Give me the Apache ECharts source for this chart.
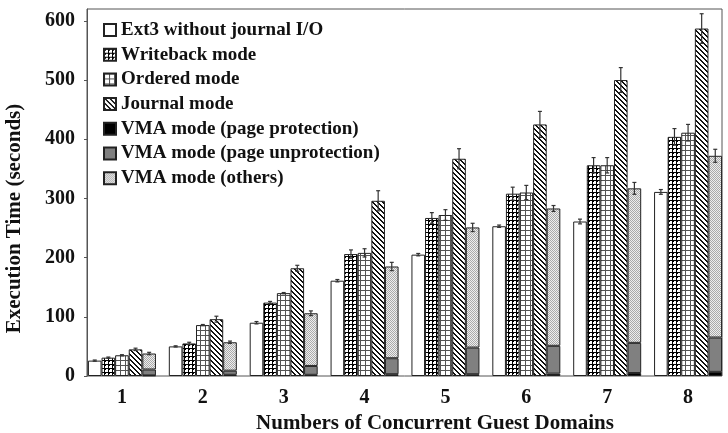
<!DOCTYPE html>
<html>
<head>
<meta charset="utf-8">
<script src="https://cdn.jsdelivr.net/npm/echarts@6/dist/echarts.min.js"></script>
<style>
  html, body { margin: 0; padding: 0; background: #fff; }
  #chart { width: 728px; height: 433px; }
</style>
</head>
<body>
<div id="chart"></div>
<script>
// values (seconds)
const categories = ['1', '2', '3', '4', '5', '6', '7', '8'];
const ext3 = [26, 50, 90, 161, 205, 253, 261, 311];
const writeback = [31, 55, 124, 206, 267, 308, 356, 404];
const ordered = [35, 86, 140, 208, 272, 310, 356, 411];
const journal = [45, 96, 182, 296, 367, 425, 500, 587];
const vmaProt = [1, 2, 2, 3, 3, 4, 5, 7];
const vmaUnprot = [10, 7, 15, 27, 45, 47, 51, 58];
const vmaOthers = [27, 48, 89, 155, 203, 232, 261, 307];
// error bar half-lengths
const errExt3 = [1, 1, 2, 2, 2, 2, 4, 4];
const errWriteback = [1, 2, 2, 7, 9, 11, 13, 14];
const errOrdered = [1, 1, 1, 7, 9, 12, 13, 14];
const errJournal = [2, 5, 5, 17, 17, 22, 21, 25];
const errVma = [2, 2, 4, 7, 7, 5, 10, 11];
const yMin = 0, yMax = 620, yStep = 100;

const FONT = 'Liberation Serif';
const BAR_W = 13.6;

// little tiled fills like the b/w print
function pattern(size, fn) {
  const c = document.createElement('canvas');
  c.width = size; c.height = size;
  const ctx = c.getContext('2d');
  for (let y = 0; y < size; y++) {
    for (let x = 0; x < size; x++) {
      ctx.fillStyle = fn(x, y);
      ctx.fillRect(x, y, 1, 1);
    }
  }
  return { image: c, repeat: 'repeat' };
}
const pWriteback = pattern(4, (x, y) => (x === 0 || y === 0 || (x === 1 && y === 1)) ? '#000' : '#fff');
const pOrdered = pattern(5, (x, y) => (x === 0 || y === 0) ? '#555' : '#fff');
const pJournal = pattern(5, (x, y) => (((x - y) % 5 + 5) % 5) < 2 ? '#111' : '#fff');
const pOthers = pattern(2, (x, y) => (x + y) % 2 === 0 ? '#aaa' : '#eee');

function barSeries(name, data, color, stack) {
  const s = {
    name: name,
    type: 'bar',
    data: data,
    barWidth: BAR_W,
    barGap: '0%',
    xAxisIndex: 0,
    yAxisIndex: 0,
    itemStyle: { color: color, borderColor: '#222', borderWidth: 1 },
    emphasis: { disabled: true }
  };
  if (stack) s.stack = stack;
  return s;
}

const vmaTotal = vmaProt.map((v, i) => v + vmaUnprot[i] + vmaOthers[i]);
const errData = [];
[[ext3, errExt3], [writeback, errWriteback], [ordered, errOrdered], [journal, errJournal], [vmaTotal, errVma]]
  .forEach((pair, k) => pair[0].forEach((v, i) => errData.push([i, v, pair[1][i], k])));

const chart = echarts.init(document.getElementById('chart'));
chart.setOption({
  animation: false,
  textStyle: { fontFamily: FONT },
  grid: [
    { left: 81.5, width: 647, top: 9, height: 367, outerBoundsMode: 'none' },
    { left: 87, right: 6, top: 9, height: 367, outerBoundsMode: 'none', show: true, borderColor: '#555', borderWidth: 1 }
  ],
  legend: {
    orient: 'vertical',
    left: 98,
    top: 15.5,
    icon: 'rect',
    itemWidth: 12,
    itemHeight: 12,
    itemGap: 5.7,
    textStyle: { fontFamily: FONT, fontWeight: 'bold', fontSize: 19, color: '#111', lineHeight: 19 },
    data: ['Ext3 without journal I/O', 'Writeback mode', 'Ordered mode', 'Journal mode',
      'VMA mode (page protection)', 'VMA mode (page unprotection)', 'VMA mode (others)']
  },
  xAxis: [
    {
      type: 'category', gridIndex: 0, data: categories,
      axisLine: { show: false }, axisTick: { show: false },
      axisLabel: { fontFamily: FONT, fontWeight: 'bold', fontSize: 20, color: '#111', margin: 12 },
      name: 'Numbers of Concurrent Guest Domains',
      nameLocation: 'middle',
      nameGap: 36,
      nameTextStyle: { fontFamily: FONT, fontWeight: 'bold', fontSize: 21, color: '#111', padding: [0, 0, 0, 60] }
    },
    { type: 'category', gridIndex: 1, data: categories, show: false }
  ],
  yAxis: [
    { type: 'value', gridIndex: 0, min: yMin, max: yMax, interval: yStep, show: false },
    {
      type: 'value', gridIndex: 1, min: yMin, max: yMax, interval: yStep,
      splitLine: { show: false },
      axisLine: { show: true, lineStyle: { color: '#555' } },
      axisTick: { show: true, length: 3, lineStyle: { color: '#555' } },
      axisLabel: { fontFamily: FONT, fontWeight: 'bold', fontSize: 20, color: '#111', margin: 12, showMaxLabel: false },
      name: 'Execution Time (seconds)',
      nameLocation: 'middle',
      nameGap: 62,
      nameTextStyle: { fontFamily: FONT, fontWeight: 'bold', fontSize: 21, color: '#111', padding: [0, 52, 0, 0] }
    }
  ],
  series: [
    barSeries('Ext3 without journal I/O', ext3, '#fff'),
    barSeries('Writeback mode', writeback, pWriteback),
    barSeries('Ordered mode', ordered, pOrdered),
    barSeries('Journal mode', journal, pJournal),
    barSeries('VMA mode (page protection)', vmaProt, '#000', 'vma'),
    barSeries('VMA mode (page unprotection)', vmaUnprot, '#808080', 'vma'),
    barSeries('VMA mode (others)', vmaOthers, pOthers, 'vma'),
    {
      type: 'custom',
      xAxisIndex: 0,
      yAxisIndex: 0,
      z: 10,
      data: errData,
      encode: { x: 0, y: 1 },
      renderItem: function (params, api) {
        const i = api.value(0), top = api.value(1), err = api.value(2), k = api.value(3);
        const x = api.coord([i, top])[0] + (k - 2) * BAR_W;
        const y1 = api.coord([i, top + err])[1];
        const y2 = api.coord([i, top - err])[1];
        const st = { stroke: '#333', lineWidth: 1.2 };
        return {
          type: 'group',
          children: [
            { type: 'line', shape: { x1: x, y1: y1, x2: x, y2: y2 }, style: st },
            { type: 'line', shape: { x1: x - 2, y1: y1, x2: x + 2, y2: y1 }, style: st },
            { type: 'line', shape: { x1: x - 2, y1: y2, x2: x + 2, y2: y2 }, style: st }
          ]
        };
      }
    }
  ]
});
</script>
</body>
</html>
